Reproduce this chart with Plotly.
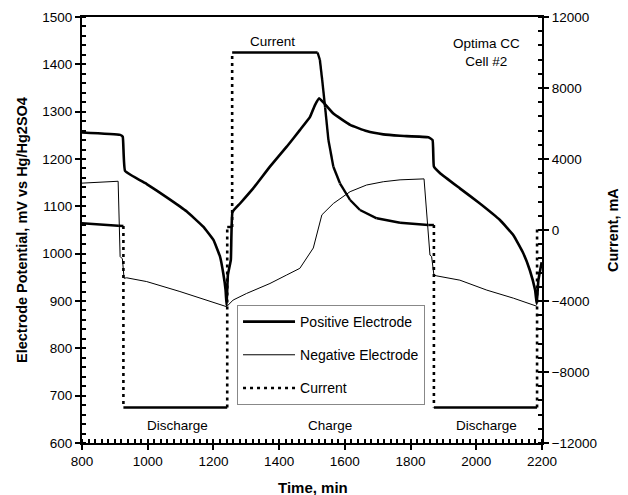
import plotly.graph_objects as go

# ---- data ----
pos_time = [800, 916, 924, 931, 997, 1058, 1119, 1169, 1200, 1220, 1230, 1237, 1240,
            1244, 1253, 1258, 1281, 1321, 1372, 1423, 1463, 1494, 1509, 1522, 1565,
            1616, 1666, 1717, 1768, 1854, 1867, 1871, 1890, 1950, 2011, 2072, 2113,
            2143, 2163, 2179, 2184, 2189, 2199]
pos_mv = [1256, 1251, 1247, 1175, 1147, 1119, 1089, 1057, 1029, 994, 958, 923, 891,
          955, 987, 1088, 1106, 1138, 1184, 1226, 1261, 1289, 1314, 1328, 1296,
          1272, 1259, 1252, 1249, 1246, 1240, 1184, 1170, 1138, 1106, 1071, 1039,
          1001, 965, 923, 894, 944, 982]

neg_time = [800, 900, 910, 916, 923, 928, 936, 997, 1098, 1240, 1260, 1301, 1372,
            1423, 1463, 1504, 1519, 1530, 1565, 1616, 1666, 1717, 1768, 1841, 1859,
            1864, 1871, 1880, 1950, 2032, 2113, 2184]
neg_mv = [1149, 1153, 1153, 994, 989, 948, 949, 941, 920, 888, 902, 916, 937,
          955, 969, 1012, 1054, 1082, 1106, 1131, 1145, 1152, 1156, 1158, 997,
          994, 955, 953, 944, 923, 906, 889]

cur_time = [800, 910, 926, 926, 1242, 1242, 1257, 1257, 1517, 1524, 1531, 1540, 1550,
            1565, 1585, 1616, 1646, 1697, 1768, 1854, 1871, 1871, 2185, 2185]
cur_ma = [377, 242, 225, -10000, -10000, 170, 170, 10000, 10000, 9577, 8451, 6900, 5070,
          3566, 2631, 1690, 1127, 659, 411, 282, 282, -10000, -10000, 170]

# split current into step (dotted) and plateau (solid) segments
step_x, step_y, flat_x, flat_y = [], [], [], []
for i in range(len(cur_time) - 1):
    x0, x1 = cur_time[i], cur_time[i + 1]
    y0, y1 = cur_ma[i], cur_ma[i + 1]
    if x1 == x0:
        step_x += [x0, x1, None]
        step_y += [y0, y1, None]
    else:
        flat_x += [x0, x1, None]
        flat_y += [y0, y1, None]

FONT = "Liberation Sans, Arial, sans-serif"

fig = go.Figure()
fig.add_trace(go.Scatter(x=pos_time, y=pos_mv, mode="lines", name="Positive Electrode",
                         line=dict(color="black", width=2.6, shape="spline", smoothing=0.3),
                         legendgroup="a"))
fig.add_trace(go.Scatter(x=neg_time, y=neg_mv, mode="lines", name="Negative Electrode",
                         line=dict(color="black", width=1), legendgroup="b"))
fig.add_trace(go.Scatter(x=flat_x, y=flat_y, mode="lines", yaxis="y2", showlegend=False,
                         line=dict(color="black", width=2.4), legendgroup="c"))
fig.add_trace(go.Scatter(x=step_x, y=step_y, mode="lines", yaxis="y2", name="Current",
                         line=dict(color="black", width=2.6, dash="3px,4px"), legendgroup="c"))

axis_common = dict(showgrid=False, zeroline=False, showline=True, linecolor="black",
                   linewidth=2, ticks="outside", ticklen=5, tickwidth=1.5, tickcolor="black",
                   automargin=False,
                   tickfont=dict(family=FONT, size=13.5, color="black"))

fig.update_layout(
    width=628, height=495,
    margin=dict(l=82, r=86, t=17, b=52),
    plot_bgcolor="white", paper_bgcolor="white",
    font=dict(family=FONT, color="black"),
    xaxis=dict(range=[800, 2200], dtick=200, mirror=True,
               minor=dict(dtick=20, ticks="inside", ticklen=4, tickwidth=1.5, tickcolor="black"),
               **axis_common),
    yaxis=dict(range=[600, 1500], dtick=100,
               minor=dict(dtick=20, ticks="inside", ticklen=4, tickwidth=1.5, tickcolor="black"),
               **axis_common),
    yaxis2=dict(range=[-12000, 12000], dtick=4000, overlaying="y", side="right",
                tickformat="d",
                minor=dict(dtick=800, ticks="inside", ticklen=4, tickwidth=1.5, tickcolor="black"),
                **axis_common),
    legend=dict(x=0.337, y=0.324, xanchor="left", yanchor="top",
                bgcolor="white", bordercolor="#888888", borderwidth=1,
                font=dict(family=FONT, size=14), itemwidth=52,
                tracegroupgap=12, traceorder="grouped"),
    showlegend=True,
)

# axis titles
title_font = dict(family=FONT, size=14.5, color="black")
fig.add_annotation(x=-0.1304, y=0.5, xref="paper", yref="paper", showarrow=False,
                   xanchor="center", yanchor="middle",
                   text="<b>Electrode Potential, mV vs Hg/Hg2SO4</b>", textangle=-90,
                   font=title_font)
fig.add_annotation(x=1.1543, y=0.5, xref="paper", yref="paper", showarrow=False,
                   xanchor="center", yanchor="middle",
                   text="<b>Current, mA</b>", textangle=-90, font=title_font)
fig.add_annotation(x=0.502, y=-0.1033, xref="paper", yref="paper", showarrow=False,
                   xanchor="center", yanchor="middle",
                   text="<b>Time, min</b>", font=dict(family=FONT, size=15, color="black"))

ann_font = dict(family=FONT, size=13.5, color="black")
for txt, x, y in [("Current", 1380, 1448), ("Optima CC<br>Cell #2", 2032, 1426),
                  ("Discharge", 1091, 638), ("Charge", 1555, 638), ("Discharge", 2032, 637)]:
    fig.add_annotation(x=x, y=y, xref="x", yref="y", text=txt, showarrow=False, font=ann_font)

fig.write_html("out.html")
